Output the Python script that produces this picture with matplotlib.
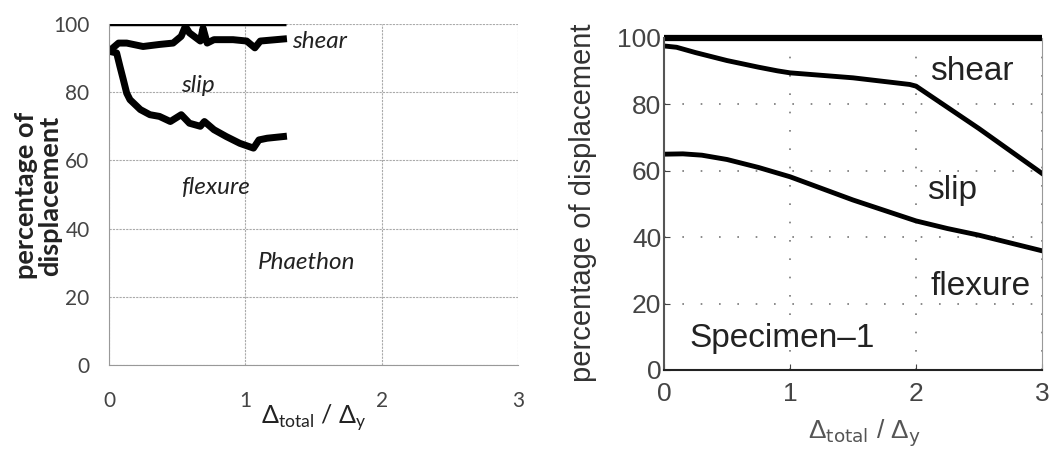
import numpy as np
import matplotlib.pyplot as plt

plt.rcParams['font.family'] = ['Lato', 'DejaVu Sans']
plt.rcParams['mathtext.fontset'] = 'custom'
plt.rcParams['mathtext.rm'] = 'Lato'

# левая панель (Phaethon): границы между зонами shear / slip / flexure
ph_x_top = [0, 1.3]
ph_y_top = [100, 100]
ph_x_shear = [0, 0.07, 0.13, 0.25, 0.37, 0.47, 0.53, 0.56, 0.59, 0.67, 0.69, 0.72,
              0.77, 0.91, 1.01, 1.07, 1.11, 1.28]
ph_y_shear = [92, 94.4, 94.4, 93.4, 94, 94.4, 96.4, 99.3, 97.4, 95, 98.8, 94.4,
              95.4, 95.4, 95, 93, 95, 95.6]
ph_x_slip = [0, 0.056, 0.08, 0.105, 0.13, 0.154, 0.23, 0.30, 0.37, 0.45, 0.53, 0.59,
             0.67, 0.70, 0.77, 0.86, 0.96, 1.06, 1.10, 1.16, 1.28]
ph_y_slip = [92, 91.5, 87.6, 83.7, 79.7, 77.8, 74.9, 73.4, 72.9, 71.4, 73.4, 70.9,
             70, 71.4, 69, 67, 65, 63.6, 66, 66.5, 67]

# правая панель (Specimen-1)
sp_x_top = [0, 3]
sp_y_top = [100, 100]
sp_x_shear = [0, 0.1, 0.25, 0.5, 0.75, 0.9, 1.0, 1.5, 1.95, 2.0, 2.5, 3.0]
sp_y_shear = [97.6, 97.2, 95.6, 93.2, 91.2, 90.1, 89.5, 88, 86, 85.5, 72.7, 59.2]
sp_x_slip = [0, 0.15, 0.3, 0.5, 0.75, 1.0, 1.5, 2.0, 2.25, 2.5, 3.0]
sp_y_slip = [65, 65.1, 64.7, 63.4, 61, 58.2, 51.2, 44.9, 42.6, 40.6, 35.9]

x_ticks = [0, 1, 2, 3]
y_ticks = [0, 20, 40, 60, 80, 100]

fig = plt.figure(figsize=(10.5, 4.5), dpi=100)

# --- левая панель ---
ax1 = fig.add_axes([0.1038, 0.1889, 0.3895, 0.7578])
ax1.set_xlim(0, 3)
ax1.set_ylim(0, 100)
ax1.set_xticks(x_ticks)
ax1.set_yticks(y_ticks)
ax1.grid(True, color='#aaaaaa', linestyle=(0, (2, 1)), linewidth=0.8)
ax1.spines['top'].set_visible(False)
ax1.spines['right'].set_visible(False)
for s in ['left', 'bottom']:
    ax1.spines[s].set_color('#999999')
ax1.tick_params(axis='both', length=0, labelsize=15, labelcolor='#444444')
ax1.tick_params(axis='y', pad=14)
ax1.tick_params(axis='x', pad=19)

ax1.plot(ph_x_top, ph_y_top, color='black', lw=2.5, solid_capstyle='butt')
ax1.plot(ph_x_shear, ph_y_shear, color='black', lw=5, solid_joinstyle='round')
ax1.plot(ph_x_slip, ph_y_slip, color='black', lw=5, solid_joinstyle='round')

lbl = dict(fontsize=17.5, style='italic', color='#222222', va='center')
ax1.text(1.34, 95, 'shear', ha='left', **lbl)
ax1.text(0.65, 82, 'slip', ha='center', **lbl)
ax1.text(0.78, 52, 'flexure', ha='center', **lbl)
ax1.text(1.45, 30, 'Phaethon', ha='center', **lbl)

ax1.text(0.5, -0.155, r'Δ$_{\rm total}$ / Δ$_{\rm y}$', transform=ax1.transAxes,
         ha='center', va='center', fontsize=18, color='#222222')
fig.text(38 / 1050, 0.565, 'percentage of\ndisplacement', rotation=90,
         ha='center', va='center', multialignment='center', fontsize=19.5,
         fontweight='bold', color='#222222', linespacing=1.0)

# --- правая панель ---
helv = ['Liberation Sans', 'DejaVu Sans']
ax2 = fig.add_axes([0.6324, 0.1778, 0.36, 0.7378])
ax2.set_xlim(0, 3)
ax2.set_ylim(0, 100)
ax2.set_xticks(x_ticks)
ax2.set_yticks(y_ticks)
ax2.grid(True, color='#777777', linestyle=(0, (1, 10)), linewidth=1.2)
ax2.spines['left'].set_color('#555555')
ax2.spines['left'].set_linewidth(1.5)
ax2.spines['bottom'].set_color('#222222')
ax2.spines['bottom'].set_linewidth(1.5)
ax2.spines['right'].set_color('#999999')
ax2.spines['top'].set_visible(False)
ax2.tick_params(axis='both', direction='in', length=4, color='#444444',
                labelsize=19, labelcolor='#444444')
ax2.tick_params(axis='x', pad=9)
ax2.tick_params(axis='y', pad=2)
for t in ax2.get_xticklabels() + ax2.get_yticklabels():
    t.set_family(helv)

ax2.plot(sp_x_top, sp_y_top, color='black', lw=4.5, solid_capstyle='butt', clip_on=False)
ax2.plot(sp_x_shear, sp_y_shear, color='black', lw=3.5)
ax2.plot(sp_x_slip, sp_y_slip, color='black', lw=3.5)

lbl2 = dict(fontsize=24, family=helv, color='#222222', va='center', ha='center')
ax2.text(2.44, 89.8, 'shear', **lbl2)
ax2.text(2.29, 54, 'slip', **lbl2)
ax2.text(2.51, 25, 'flexure', **lbl2)
ax2.text(0.94, 9.5, 'Specimen–1', **lbl2)

ax2.text(0.53, -0.19, r'Δ$_{\rm total}$ / Δ$_{\rm y}$', transform=ax2.transAxes,
         ha='center', va='center', fontsize=19, family=helv, color='#555555',
         math_fontfamily='dejavusans')
fig.text(583 / 1050, 1 - 203 / 450, 'percentage of displacement', rotation=90,
         ha='center', va='center', fontsize=21, family=helv, color='#333333')

fig.savefig('out.png', dpi=100)
